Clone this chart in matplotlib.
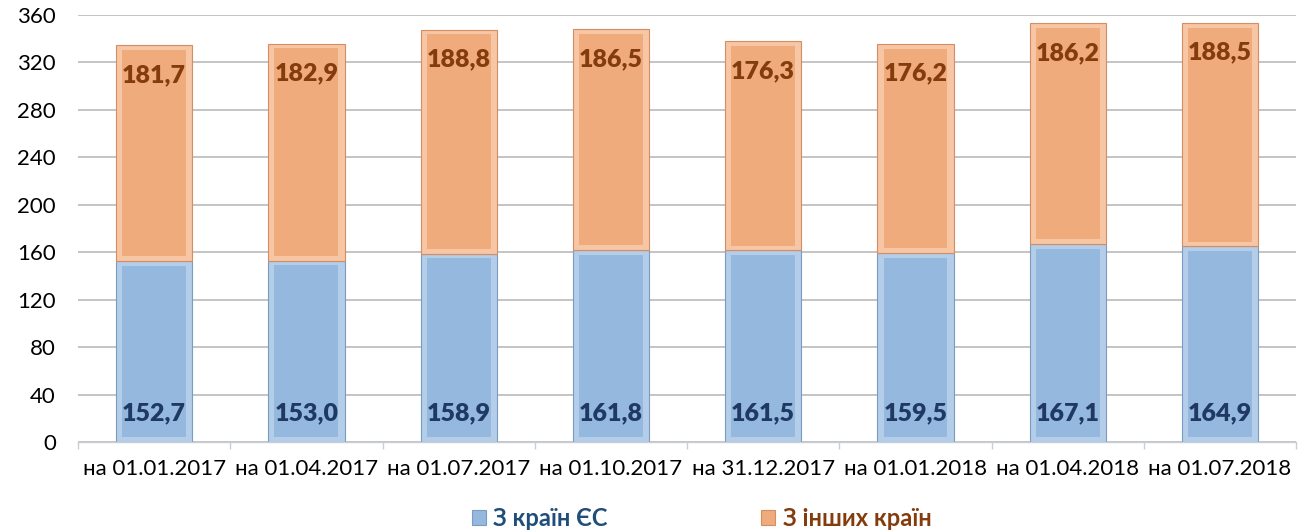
import matplotlib
matplotlib.use("Agg")
import matplotlib.pyplot as plt
import numpy as np
from matplotlib.patches import Patch

categories = ["на 01.01.2017", "на 01.04.2017", "на 01.07.2017", "на 01.10.2017",
              "на 31.12.2017", "на 01.01.2018", "на 01.04.2018", "на 01.07.2018"]
eu = [152.7, 153.0, 158.9, 161.8, 161.5, 159.5, 167.1, 164.9]
other = [181.7, 182.9, 188.8, 186.5, 176.3, 176.2, 186.2, 188.5]
series_names = ["З країн ЄС", "З інших країн"]
yticks = [0, 40, 80, 120, 160, 200, 240, 280, 320, 360]

plt.rcParams['font.family'] = ['Lato', 'DejaVu Sans']

fig = plt.figure(figsize=(13.14, 5.31), dpi=100)
ax = fig.add_axes([0.0594, 0.1676, 0.927, 0.8042])

x = np.arange(len(categories))
w = 0.5
blue = "#95B9DE"
blue_edge = "#B4CDE8"
blue_dark = "#7A9CC2"
orange = "#F0AB7D"
orange_edge = "#F6C6A5"
orange_dark = "#D48E62"

eu_a = np.array(eu)
ot_a = np.array(other)

# outer (bevel) bars
ax.bar(x, eu_a, w, color=blue_edge, edgecolor=blue_dark, linewidth=0.8, zorder=2)
ax.bar(x, ot_a, w, bottom=eu_a, color=orange_edge, edgecolor=orange_dark, linewidth=0.8, zorder=2)
# inner faces
ins = 4
ax.bar(x, eu_a - 2 * ins, w * 0.84, bottom=ins, color=blue, linewidth=0, zorder=3)
ax.bar(x, ot_a - 2 * ins, w * 0.84, bottom=eu_a + ins, color=orange, linewidth=0, zorder=3)

for i in range(len(categories)):
    ax.annotate(f"{eu[i]:.1f}".replace(".", ","), (x[i], 0), xytext=(0, 29),
                textcoords="offset pixels", ha="center", va="center",
                fontsize=18, fontweight="heavy", color="#1F3864", zorder=5)
    ax.annotate(f"{other[i]:.1f}".replace(".", ","), (x[i], eu[i] + other[i]),
                xytext=(0, -30), textcoords="offset pixels", ha="center", va="center",
                fontsize=18, fontweight="heavy", color="#843C0C", zorder=5)

ax.set_xlim(-0.5, len(categories) - 0.5)
ax.set_ylim(0, 360)
ax.set_yticks(yticks)
ax.set_yticklabels([str(v) for v in yticks], fontsize=16)
ax.tick_params(axis="y", length=0, pad=16)
ax.set_xticks(x)
ax.set_xticklabels(categories, fontsize=16)
ax.tick_params(axis="x", length=0, pad=12)
ax.set_xticks(np.arange(len(categories) + 1) - 0.5, minor=True)
ax.tick_params(axis="x", which="minor", length=5, color="#C8CDD6", width=1)

ax.grid(axis="y", color="#BFBFBF", linewidth=1.3, zorder=0)
ax.set_axisbelow(True)
for s in ["top", "right", "left"]:
    ax.spines[s].set_visible(False)
ax.spines["bottom"].set_color("#C8CDD6")
ax.spines["bottom"].set_linewidth(1)
ax.spines["bottom"].set_zorder(4)

# legend
handles = [Patch(facecolor=blue, edgecolor=blue_dark, linewidth=0.8),
           Patch(facecolor=orange, edgecolor=orange_dark, linewidth=0.8)]
leg = fig.legend(handles, series_names, loc="center", bbox_to_anchor=(0.534, 0.023),
                 ncol=2, frameon=False, handlelength=0.6, handleheight=0.6,
                 handletextpad=0.3, columnspacing=6.5,
                 prop={"weight": "bold", "size": 17})
leg.get_texts()[0].set_color("#1F4E79")
leg.get_texts()[1].set_color("#843C0C")

fig.savefig("out.png", dpi=100)
